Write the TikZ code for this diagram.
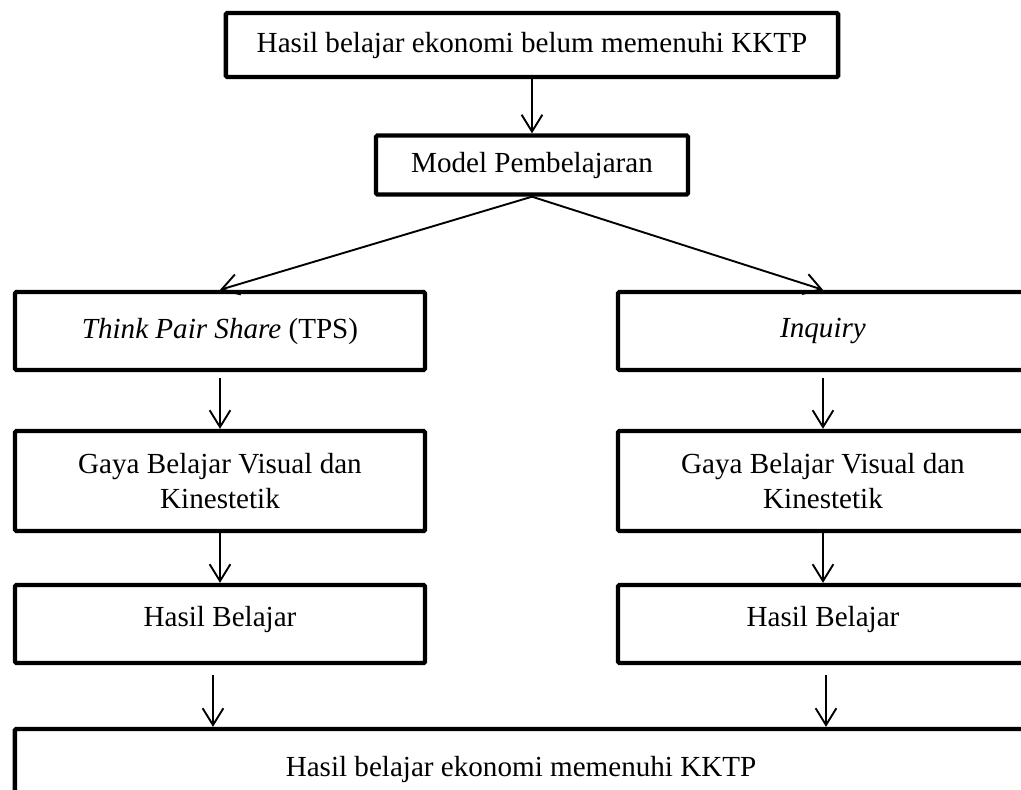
\documentclass[tikz,border=0pt]{standalone}
\usepackage{fontspec}
\setmainfont{Liberation Serif}
\usetikzlibrary{arrows.meta}

\tikzset{
  kotak/.style={draw, line width=3.1pt, rounded corners=1pt, minimum width=10.25cm,
    align=center, inner sep=0pt, font=\fontsize{20.7}{24.5}\selectfont},
  naik/.style={text depth=11.5pt},
  panah/.style={-{Straight Barb[length=4.2mm,width=5.2mm]}, line width=1.35pt},
}

\begin{document}
\begin{tikzpicture}[x=0.025cm,y=-0.025cm]
	\clip (0,0) rectangle (1021,790);
	% alur atas
	\node[kotak, minimum width=15.3cm, minimum height=1.6cm] (awal) at (532,45) {Hasil belajar ekonomi belum memenuhi KKTP};
	\node[kotak, minimum width=7.8cm, minimum height=1.475cm] (model) at (532,165) {Model Pembelajaran};
	% kolom kiri dan kanan
	\node[kotak, minimum height=1.95cm] (tps) at (220,331) {\textit{Think Pair Share} (TPS)};
	\node[kotak, minimum height=1.95cm] (inq) at (823,331) {\textit{Inquiry}};
	\node[kotak, minimum height=2.5cm] (gayaA) at (220,481) {Gaya Belajar Visual dan\\Kinestetik};
	\node[kotak, minimum height=2.5cm] (gayaB) at (823,481) {Gaya Belajar Visual dan\\Kinestetik};
	\node[kotak, naik, minimum height=1.95cm] (hasilA) at (220,624) {Hasil Belajar};
	\node[kotak, naik, minimum height=1.95cm] (hasilB) at (823,624) {Hasil Belajar};
	% alur bawah
	\node[kotak, minimum width=25.3cm, minimum height=2cm] (akhir) at (521,769) {Hasil belajar ekonomi memenuhi KKTP};

	\draw[panah] (awal) -- (model);
	\draw[panah] (model.south) -- (tps.north);
	\draw[panah] (model.south) -- (inq.north);
	\draw[panah, shorten <=1.5mm] (tps) -- (gayaA);
	\draw[panah, shorten <=1.5mm] (inq) -- (gayaB);
	\draw[panah] (gayaA) -- (hasilA);
	\draw[panah] (gayaB) -- (hasilB);
	\draw[panah, shorten <=2.5mm] ([xshift=-1.75mm]hasilA.south) -- ([xshift=-1.75mm]hasilA.south |- akhir.north);
	\draw[panah, shorten <=2.5mm] ([xshift=0.75mm]hasilB.south) -- ([xshift=0.75mm]hasilB.south |- akhir.north);
\end{tikzpicture}
\end{document}
